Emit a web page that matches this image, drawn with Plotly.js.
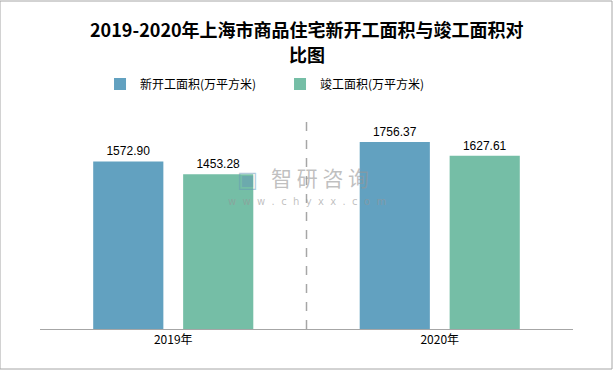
<!DOCTYPE html>
<html>
<head>
<meta charset="utf-8">
<script src="https://cdn.plot.ly/plotly-3.0.1.min.js"></script>
<style>
html,body{margin:0;padding:0;background:#fff;}
#chart{width:613px;height:370px;}
</style>
</head>
<body>
<div id="chart"></div>
<script>
const categories = ["2019年", "2020年"];
const newStarts = [1572.90, 1756.37];
const completions = [1453.28, 1627.61];
const seriesNames = ["新开工面积(万平方米)", "竣工面积(万平方米)"];
const titleLines = ["2019-2020年上海市商品住宅新开工面积与竣工面积对", "比图"];

const fontCJK = "'Noto Sans CJK SC', 'DejaVu Sans', sans-serif";
const PH = 213; // plot height in px
const py = p => (329 - p) / PH; // pixel y -> paper y

const traces = [
  {
    type: "bar", name: seriesNames[0], x: categories, y: newStarts,
    marker: {color: "#62a1c0"},
    text: newStarts.map(v => v.toFixed(2)), textposition: "outside",
    textfont: {size: 12, color: "#000", family: "Liberation Sans, Arial, sans-serif"},
    cliponaxis: false, hoverinfo: "none"
  },
  {
    type: "bar", name: seriesNames[1], x: categories, y: completions,
    marker: {color: "#75bea6"},
    text: completions.map(v => v.toFixed(2)), textposition: "outside",
    textfont: {size: 12, color: "#000", family: "Liberation Sans, Arial, sans-serif"},
    cliponaxis: false, hoverinfo: "none"
  }
];

const titleAnn = titleLines.map((t, i) => ({
  xref: "paper", yref: "paper", x: 0.5, y: py(29 + i * 25), text: t, showarrow: false,
  xanchor: "center", yanchor: "middle",
  font: {family: fontCJK, size: 18, color: "#000", weight: "bold"}
}));

const layout = {
  width: 613, height: 370,
  margin: {l: 40, r: 40, t: 116, b: 41},
  paper_bgcolor: "#fff", plot_bgcolor: "#fff",
  showlegend: true,
  legend: {
    orientation: "h", x: 0.1126, xanchor: "left", y: py(84), yanchor: "middle",
    font: {family: fontCJK, size: 12, color: "#000"},
    itemwidth: 30, entrywidth: 135, traceorder: "normal"
  },
  barmode: "group", bargap: 0.325, bargroupgap: 0.22,
  xaxis: {
    showline: true, linecolor: "#a6a6a6", linewidth: 1,
    ticks: "", showgrid: false, zeroline: false,
    tickfont: {family: fontCJK, size: 12, color: "#000"}
  },
  yaxis: {
    range: [0, 2000], visible: false, showgrid: false, zeroline: false
  },
  shapes: [
    {type: "line", xref: "paper", yref: "paper", x0: 0.5, x1: 0.5, y0: 0, y1: 1,
     line: {color: "#a6a6a6", width: 1.5, dash: "dash"}},
    {type: "rect", xref: "paper", yref: "paper", x0: -40/533, x1: 1 + 39/533,
     y0: -40/213, y1: 1 + 115/213,
     line: {color: "#a6a6a6", width: 1}}
  ],
  annotations: titleAnn.concat([
    {xref: "paper", yref: "paper", x: 0.525, y: py(177), text: "智 研 咨 询", showarrow: false,
     font: {family: fontCJK, size: 21, color: "rgba(150,150,150,0.6)"}, xanchor: "center", yanchor: "middle"},
    {xref: "paper", yref: "paper", x: 0.50, y: py(201), text: "w  w  w  .  c  h  y  x  x  .  c  o  m", showarrow: false,
     font: {family: "DejaVu Sans, sans-serif", size: 10, color: "rgba(150,150,150,0.6)"}, xanchor: "center", yanchor: "middle"},
    {xref: "paper", yref: "paper", x: 0.39, y: py(179), text: "▣", showarrow: false,
     font: {family: "DejaVu Sans, sans-serif", size: 22, color: "rgba(100,150,180,0.5)"}, xanchor: "center", yanchor: "middle"}
  ])
};

Plotly.newPlot("chart", traces, layout, {displayModeBar: false, staticPlot: true});
</script>
</body>
</html>
